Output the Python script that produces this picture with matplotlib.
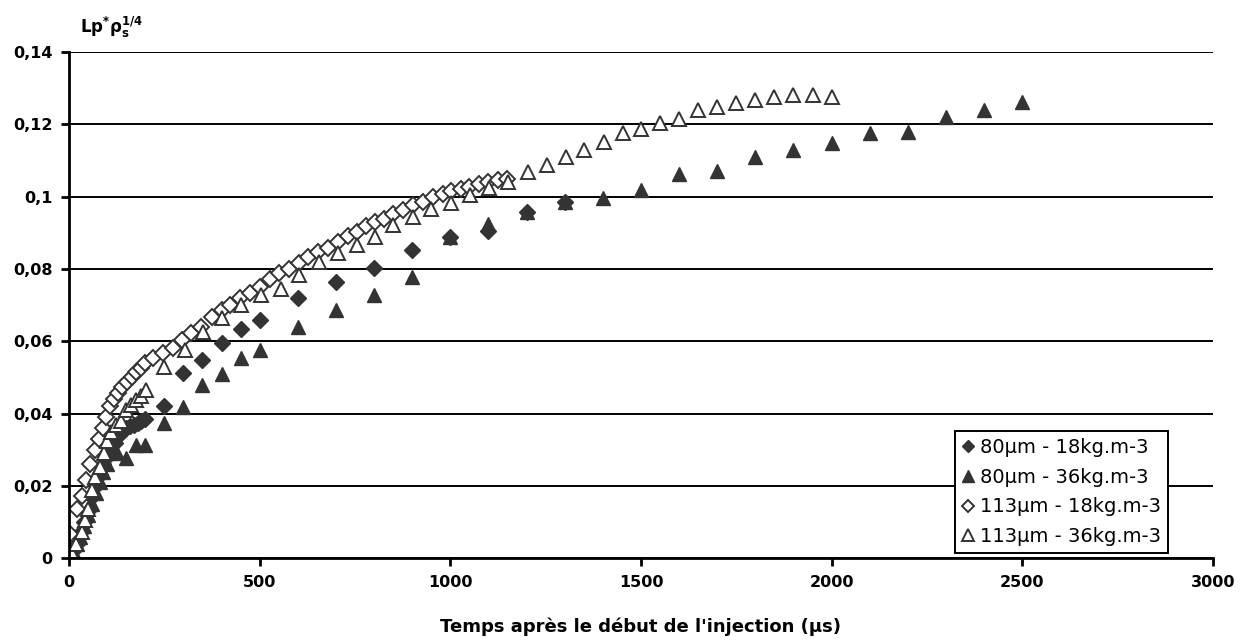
"""Lp*rho_s^1/4 versus time after injection start, four particle/density cases."""

import matplotlib

matplotlib.use("Agg")
import matplotlib.pyplot as plt
from matplotlib.ticker import FuncFormatter, MultipleLocator

plt.rcParams["font.family"] = ["DejaVu Sans"]
plt.rcParams["mathtext.fontset"] = "custom"
plt.rcParams["mathtext.rm"] = "DejaVu Sans:bold"
plt.rcParams["mathtext.it"] = "DejaVu Sans:bold"
plt.rcParams["mathtext.bf"] = "DejaVu Sans:bold"

# 80 µm - 18 kg.m-3 (filled diamonds)
t_80_18 = [0, 10, 20, 30, 40, 50, 60, 70, 80, 90, 100, 110, 120, 130, 140, 150,
           160, 170, 180, 190, 200, 250, 300, 350, 400, 450, 500, 600, 700, 800,
           900, 1000, 1100, 1200, 1300]
lp_80_18 = [0.0008, 0.002, 0.004, 0.007, 0.010, 0.013, 0.017, 0.020, 0.023, 0.026,
            0.028, 0.030, 0.032, 0.034, 0.035, 0.036, 0.0365, 0.037, 0.0375, 0.038,
            0.0385, 0.042, 0.0512, 0.0548, 0.0595, 0.0633, 0.0659, 0.0719, 0.0763,
            0.0802, 0.0852, 0.0888, 0.0905, 0.0957, 0.0985]

# 80 µm - 36 kg.m-3 (filled triangles)
t_80_36 = [0, 10, 20, 30, 40, 50, 60, 70, 80, 90, 100, 125, 150, 175, 200, 250,
           300, 350, 400, 450, 500, 600, 700, 800, 900, 1000, 1100, 1200, 1300,
           1400, 1500, 1600, 1700, 1800, 1900, 2000, 2100, 2200, 2300, 2400, 2500]
lp_80_36 = [0.0005, 0.002, 0.004, 0.006, 0.009, 0.012, 0.015, 0.018, 0.021, 0.024,
            0.026, 0.029, 0.0276, 0.0313, 0.0313, 0.0373, 0.0419, 0.0479, 0.0511,
            0.0555, 0.0576, 0.0639, 0.0686, 0.0727, 0.0777, 0.0888, 0.0925, 0.0957,
            0.0985, 0.0996, 0.1018, 0.1062, 0.1070, 0.1110, 0.1129, 0.1149, 0.1176,
            0.1178, 0.1220, 0.1240, 0.1262]

# 113 µm - 18 kg.m-3 (open diamonds)
t_113_18 = [3, 20, 33, 44, 56, 67, 78, 88, 98, 108, 118, 128, 140, 152, 164, 176,
            188, 200, 221, 247, 273, 295, 321, 347, 374, 400, 421, 448, 474, 500,
            527, 552, 578, 604, 628, 652, 680, 706, 731, 755, 779, 803, 827, 851,
            875, 901, 928, 955, 980, 1002, 1028, 1050, 1075, 1100, 1125, 1150]
lp_113_18 = [0.0068, 0.0135, 0.0172, 0.0216, 0.0262, 0.0300, 0.0331, 0.0359, 0.0390,
             0.0420, 0.0440, 0.0458, 0.0474, 0.0488, 0.0502, 0.0515, 0.0527, 0.0540,
             0.0553, 0.0569, 0.0581, 0.0604, 0.0622, 0.0640, 0.0668, 0.0687, 0.0700,
             0.0719, 0.0733, 0.0751, 0.0772, 0.0788, 0.0801, 0.0817, 0.0832, 0.0847,
             0.0859, 0.0875, 0.0891, 0.0903, 0.0918, 0.0930, 0.0939, 0.0953, 0.0963,
             0.0976, 0.0986, 0.0998, 0.1008, 0.1015, 0.1022, 0.1028, 0.1035, 0.1040,
             0.1045, 0.1050]

# 113 µm - 36 kg.m-3 (open triangles)
t_113_36 = [5, 17, 34, 43, 51, 60, 69, 82, 91, 100, 110, 122, 135, 150, 163, 176,
            189, 202, 250, 304, 352, 400, 452, 504, 556, 604, 656, 705, 755, 803,
            851, 901, 950, 1002, 1052, 1102, 1152, 1203, 1253, 1303, 1351, 1403,
            1453, 1500, 1550, 1600, 1650, 1700, 1750, 1800, 1850, 1900, 1950, 2000]
lp_113_36 = [0.002, 0.004, 0.0073, 0.0105, 0.0137, 0.0188, 0.0225, 0.0252, 0.0290,
             0.0325, 0.0350, 0.0370, 0.0380, 0.0410, 0.0423, 0.0437, 0.0450, 0.0465,
             0.0530, 0.0576, 0.0627, 0.0664, 0.0700, 0.0728, 0.0746, 0.0783, 0.0820,
             0.0843, 0.0866, 0.0889, 0.0921, 0.0944, 0.0967, 0.0982, 0.1004, 0.1023,
             0.1041, 0.1069, 0.1087, 0.1110, 0.1130, 0.1152, 0.1175, 0.1187, 0.1203,
             0.1216, 0.1239, 0.1249, 0.1260, 0.1267, 0.1276, 0.1280, 0.1280, 0.1277]

labels = ["80µm - 18kg.m-3", "80µm - 36kg.m-3", "113µm - 18kg.m-3", "113µm - 36kg.m-3"]

DARK = "#333333"

fig = plt.figure(figsize=(12.46, 6.44), dpi=100)
ax = fig.add_axes([0.0554, 0.1331, 0.918, 0.786])

ax.plot(t_80_18, lp_80_18, "D", ms=8, color=DARK, mec=DARK, label=labels[0])
ax.plot(t_80_36, lp_80_36, "^", ms=10, color=DARK, mec=DARK, label=labels[1])
ax.plot(t_113_18, lp_113_18, "D", ms=8, mfc="white", mec=DARK, mew=1.4, label=labels[2])
ax.plot(t_113_36, lp_113_36, "^", ms=10, mfc="white", mec=DARK, mew=1.4, label=labels[3])

ax.set_xlim(0, 3000)
ax.set_ylim(0, 0.14)
ax.xaxis.set_major_locator(MultipleLocator(500))
ax.yaxis.set_major_locator(MultipleLocator(0.02))
ax.yaxis.set_major_formatter(FuncFormatter(lambda v, _: f"{round(v, 2):g}".replace(".", ",")))
ax.grid(axis="y", color="black", linewidth=1.4)
ax.set_axisbelow(True)
for side in ("top", "right"):
    ax.spines[side].set_visible(False)
for side in ("left", "bottom"):
    ax.spines[side].set_linewidth(2)
ax.tick_params(direction="out", length=6, width=2, labelsize=11.5, pad=6)
for lab in ax.get_xticklabels() + ax.get_yticklabels():
    lab.set_fontweight("bold")

ax.set_xlabel("Temps après le début de l'injection (µs)", fontsize=13,
              fontweight="bold", labelpad=20)
fig.text(0.064, 0.958, r"Lp$^{*}$ρ$_{s}^{1/4}$", fontsize=12, fontweight="bold",
         va="center", ha="left")

leg = ax.legend(loc="lower right", bbox_to_anchor=(0.9607, 0.0105), fontsize=14,
                frameon=True, fancybox=False, edgecolor="black", framealpha=1,
                handlelength=0.7, handletextpad=0.25, labelspacing=0.55,
                borderpad=0.35, markerscale=0.8, borderaxespad=0)
leg.get_frame().set_linewidth(1.4)

fig.savefig("out.png", dpi=100)
